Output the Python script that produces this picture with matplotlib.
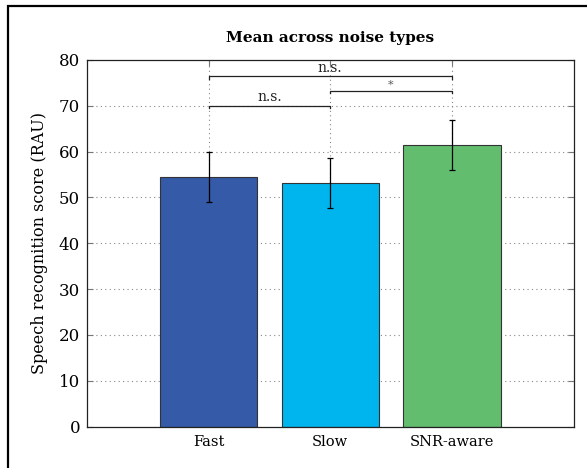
import matplotlib
matplotlib.use("Agg")
import matplotlib.pyplot as plt
from matplotlib.patches import Rectangle

categories = ["Fast", "Slow", "SNR-aware"]
means = [54.5, 53.2, 61.4]
errors = [5.4, 5.4, 5.5]
colors = ["#355AA8", "#00B5EE", "#62BD6F"]
yticks = [0, 10, 20, 30, 40, 50, 60, 70, 80]
# significance brackets: (from index, to index, height, label)
brackets = [(0, 1, 70.0, "n.s."), (1, 2, 73.2, "*"), (0, 2, 76.4, "n.s.")]

plt.rcParams['font.family'] = ['DejaVu Serif']

W, H = 587, 468
fig = plt.figure(figsize=(W / 100, H / 100), dpi=100)
fig.patches.append(Rectangle((8 / W, -0.1), 1.2, 1 - 6 / H + 0.1, transform=fig.transFigure,
                             fill=False, edgecolor="black", linewidth=1.6, zorder=10))
ax = fig.add_axes([87 / W, 1 - 426.5 / H, (573.5 - 87) / W, (426.5 - 60) / H])

x = list(range(1, len(categories) + 1))
ax.bar(x, means, width=0.8, color=colors, edgecolor="#333333", linewidth=0.8, zorder=2)
ax.errorbar(x, means, yerr=errors, fmt="none", ecolor="black", elinewidth=0.9,
            capsize=2, capthick=0.9, zorder=3)

for i, j, h, lab in brackets:
    xi, xj = x[i], x[j]
    ax.plot([xi, xi, xj, xj], [h - 0.5, h, h, h - 0.5], color="#222222", linewidth=0.9, zorder=4)
    fs = 8 if lab == "*" else 10
    col = "#555555" if lab == "*" else "#222222"
    ax.text((xi + xj) / 2, h + 0.3, lab, ha="center", va="bottom", fontsize=fs, color=col, zorder=4)

ax.set_xlim(0, 4)
ax.set_ylim(0, 80)
ax.set_yticks(yticks)
ax.set_xticks(x)
ax.set_xticklabels(categories, fontsize=10.5)
ax.tick_params(axis="y", labelsize=12, pad=5)
ax.tick_params(axis="x", pad=6)
ax.tick_params(direction="in", length=4, color="#777777", top=True, right=True, width=0.8)
ax.grid(True, linestyle=(0, (1, 3)), color="#888888", linewidth=0.8, zorder=0)
ax.set_axisbelow(True)
for s in ax.spines.values():
    s.set_color("#222222")
    s.set_linewidth(0.9)
ax.set_ylabel("Speech recognition score (RAU)", fontsize=11.5, labelpad=8)
ax.set_title("Mean across noise types", fontsize=11, fontweight="bold", pad=13)

fig.savefig("out.png", dpi=100)
